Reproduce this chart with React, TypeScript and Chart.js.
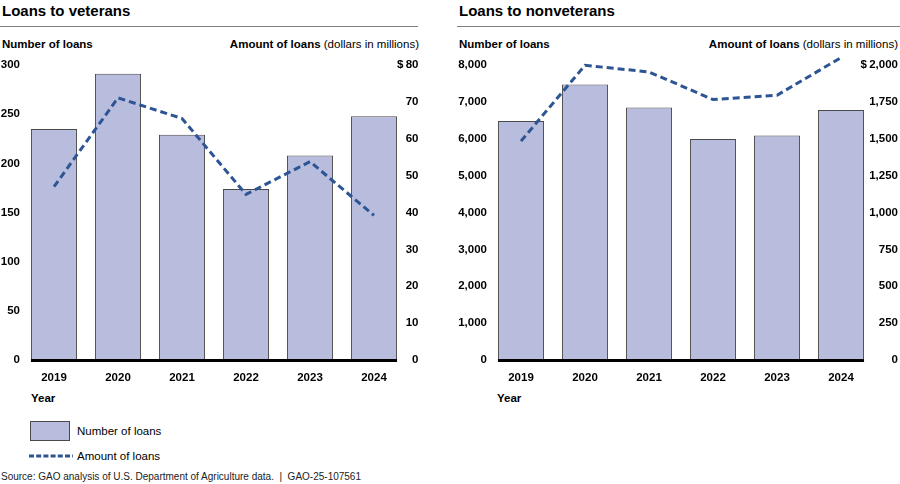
import React, { useEffect, useRef } from 'react';
import { Chart, registerables } from 'chart.js';

Chart.register(...registerables);

const years = ['2019', '2020', '2021', '2022', '2023', '2024'];
const veteranLoanCounts = [235, 291, 229, 174, 208, 248];
const veteranLoanAmounts = [47, 71.1, 65.5, 44.9, 53.8, 39.2];
const nonveteranLoanCounts = [6480, 7470, 6850, 5990, 6090, 6780];
const nonveteranLoanAmounts = [1484, 1998, 1953, 1766, 1795, 2050];
const veteranCountTicks = [0, 50, 100, 150, 200, 250, 300];
const veteranAmountTicks = [0, 10, 20, 30, 40, 50, 60, 70, 80];
const nonveteranCountTicks = [0, 1000, 2000, 3000, 4000, 5000, 6000, 7000, 8000];
const nonveteranAmountTicks = [0, 250, 500, 750, 1000, 1250, 1500, 1750, 2000];

const FONT = '"Liberation Sans", Arial, Helvetica, sans-serif';
const BAR_FILL = '#b8bcdd';
const BAR_BORDER = '#4a4a4a';
const LINE_COLOR = '#2e5593';

const fmt = (v: number) => v.toLocaleString('en-US');

const baselinePlugin = {
  id: 'baseline',
  afterDatasetsDraw(chart: any) {
    const meta = chart.getDatasetMeta(1);
    const els = meta.data;
    if (!els || !els.length) return;
    const first = els[0];
    const last = els[els.length - 1];
    const x0 = first.x - first.width / 2;
    const x1 = last.x + last.width / 2;
    const y = chart.scales.y.getPixelForValue(0);
    const ctx = chart.ctx;
    ctx.save();
    ctx.fillStyle = '#000';
    ctx.fillRect(x0, y - 1, x1 - x0, 3);
    ctx.restore();
  },
};

type PanelProps = {
  left: number;
  width: number;
  leftAxisWidth: number;
  rightAxisWidth: number;
  rightLabelOffset: number;
  counts: number[];
  amounts: number[];
  countTicks: number[];
  amountTicks: number[];
};

function Panel(p: PanelProps) {
  const ref = useRef<HTMLCanvasElement | null>(null);
  useEffect(() => {
    if (!ref.current) return;
    const tickFont = { family: FONT, size: 11.5, weight: 'bold' as const };
    const countMax = p.countTicks[p.countTicks.length - 1];
    const amountMax = p.amountTicks[p.amountTicks.length - 1];
    const chart = new Chart(ref.current, {
      type: 'bar',
      data: {
        labels: years,
        datasets: [
          {
            type: 'line',
            label: 'Amount of loans',
            data: p.amounts,
            yAxisID: 'y1',
            borderColor: LINE_COLOR,
            borderWidth: 3,
            borderDash: [7, 4],
            pointRadius: 0,
            fill: false,
            tension: 0,
            clip: false as any,
            order: 0,
          } as any,
          {
            type: 'bar',
            label: 'Number of loans',
            data: p.counts,
            yAxisID: 'y',
            backgroundColor: BAR_FILL,
            borderColor: BAR_BORDER,
            borderWidth: 1,
            categoryPercentage: 1,
            barPercentage: 0.72,
            order: 1,
          } as any,
        ],
      },
      options: {
        responsive: false,
        maintainAspectRatio: false,
        animation: false,
        layout: { padding: { top: 12, left: 0, right: 0, bottom: 0 } },
        plugins: {
          legend: { display: false },
          tooltip: { enabled: false },
          title: { display: false },
        },
        scales: {
          x: {
            offset: true,
            grid: { display: false, drawTicks: false },
            border: { display: false },
            ticks: { font: tickFont, color: '#000', padding: 11, maxRotation: 0, autoSkip: false },
            afterFit: (s: any) => { s.height = 30; },
          },
          y: {
            position: 'left',
            min: 0,
            max: countMax,
            grid: { display: false, drawTicks: false },
            border: { display: false },
            ticks: { font: tickFont, color: '#000', padding: 2, autoSkip: false, callback: (v: any) => fmt(Number(v)) },
            afterBuildTicks: (s: any) => { s.ticks = p.countTicks.map((v) => ({ value: v })); },
            afterFit: (s: any) => {
              s.width = p.leftAxisWidth;
              s.paddingTop = 6;
              s.paddingBottom = 6;
            },
          },
          y1: {
            position: 'right',
            min: 0,
            max: amountMax,
            grid: { display: false, drawTicks: false },
            border: { display: false },
            ticks: {
              font: tickFont,
              color: '#000',
              mirror: true,
              crossAlign: 'near',
              padding: p.rightLabelOffset,
              autoSkip: false,
              callback: (v: any) => (Number(v) === amountMax ? '$\u2009' + fmt(Number(v)) : fmt(Number(v))),
            },
            afterBuildTicks: (s: any) => { s.ticks = p.amountTicks.map((v) => ({ value: v })); },
            afterFit: (s: any) => {
              s.width = p.rightAxisWidth;
              s.paddingTop = 6;
              s.paddingBottom = 6;
            },
          },
        },
      } as any,
      plugins: [baselinePlugin],
    });
    return () => chart.destroy();
  }, []);
  return (
    <canvas
      ref={ref}
      width={p.width}
      height={337}
      style={{ position: 'absolute', left: p.left, top: 53, width: p.width, height: 337, display: 'block' }}
    />
  );
}

const textBase: React.CSSProperties = {
  position: 'absolute',
  fontFamily: FONT,
  color: '#000',
  whiteSpace: 'nowrap',
};

function Header({ left, ruleRight, textRight, title }: { left: number; ruleRight: number; textRight: number; title: string }) {
  return (
    <>
      <div style={{ ...textBase, left: left + 2, top: 2, fontSize: 15, fontWeight: 'bold', lineHeight: '17px' }}>{title}</div>
      <div style={{ position: 'absolute', left, top: 26, width: ruleRight - left, height: 1, background: '#7f7f7f' }} />
      <div style={{ ...textBase, left: left + 2, top: 37, fontSize: 11.5, fontWeight: 'bold', lineHeight: '14px' }}>Number of loans</div>
      <div style={{ ...textBase, left, top: 37, width: textRight - left, textAlign: 'right', fontSize: 11.5, lineHeight: '14px' }}>
        <span style={{ fontWeight: 'bold' }}>Amount of loans</span> (dollars in millions)
      </div>
    </>
  );
}

export default function App() {
  return (
    <div style={{ position: 'absolute', left: 0, top: 0, width: 900, height: 484, background: '#fff', overflow: 'hidden' }}>
      <Header left={0} ruleRight={418} textRight={419} title="Loans to veterans" />
      <Header left={457} ruleRight={900} textRight={898} title="Loans to nonveterans" />
      <Panel
        left={0}
        width={419}
        leftAxisWidth={22}
        rightAxisWidth={13}
        rightLabelOffset={12.5}
        counts={veteranLoanCounts}
        amounts={veteranLoanAmounts}
        countTicks={veteranCountTicks}
        amountTicks={veteranAmountTicks}
      />
      <Panel
        left={456}
        width={442}
        leftAxisWidth={33}
        rightAxisWidth={25}
        rightLabelOffset={25}
        counts={nonveteranLoanCounts}
        amounts={nonveteranLoanAmounts}
        countTicks={nonveteranCountTicks}
        amountTicks={nonveteranAmountTicks}
      />
      <div style={{ ...textBase, left: 31, top: 391, fontSize: 11.5, fontWeight: 'bold', lineHeight: '14px' }}>Year</div>
      <div style={{ ...textBase, left: 497, top: 391, fontSize: 11.5, fontWeight: 'bold', lineHeight: '14px' }}>Year</div>
      <div style={{ position: 'absolute', left: 30, top: 421, width: 40, height: 20, boxSizing: 'border-box', background: BAR_FILL, border: `1px solid ${BAR_BORDER}` }} />
      <div style={{ ...textBase, left: 77, top: 424, fontSize: 11.5, lineHeight: '14px' }}>Number of loans</div>
      <svg style={{ position: 'absolute', left: 29, top: 453 }} width={44} height={6}>
        <line x1={0} y1={3} x2={44} y2={3} stroke={LINE_COLOR} strokeWidth={3} strokeDasharray="5,2.2" />
      </svg>
      <div style={{ ...textBase, left: 77, top: 449, fontSize: 11.5, lineHeight: '14px' }}>Amount of loans</div>
      <div style={{ ...textBase, left: 1, top: 470, fontSize: 10, lineHeight: '14px', color: '#222' }}>
        Source: GAO analysis of U.S. Department of Agriculture data.&nbsp;&nbsp;|&nbsp;&nbsp;GAO-25-107561
      </div>
    </div>
  );
}
